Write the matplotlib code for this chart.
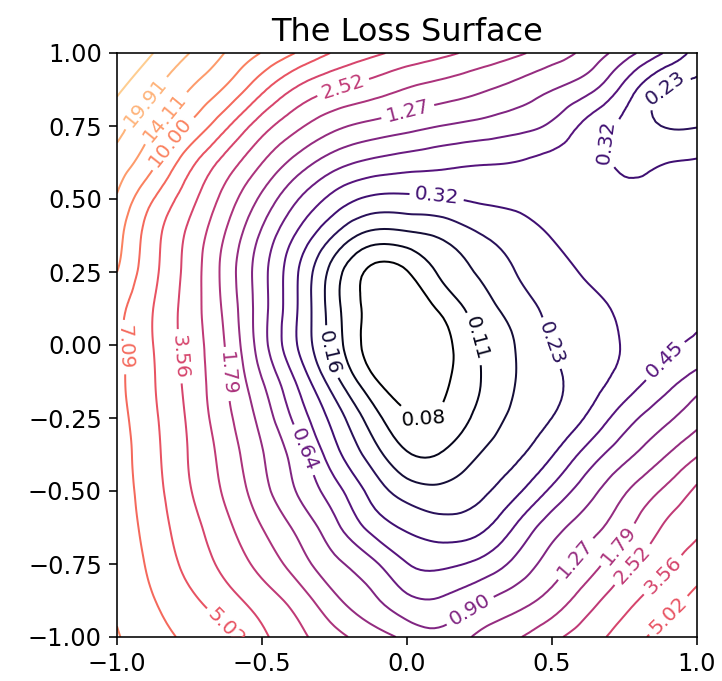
import numpy as np
import matplotlib
matplotlib.use("Agg")
import matplotlib.pyplot as plt
import matplotlib.tri as mtri
from matplotlib.colors import LogNorm

# grid coordinates (columns left->right, rows top->bottom)
x_values = [-1.0, -0.875, -0.75, -0.625, -0.5, -0.375, -0.25, -0.125, 0.0,
            0.125, 0.25, 0.375, 0.5, 0.625, 0.75, 0.875, 1.0]
y_values = [1.0, 0.875, 0.75, 0.625, 0.5, 0.375, 0.25, 0.125, 0.0,
            -0.125, -0.25, -0.375, -0.5, -0.625, -0.75, -0.875, -1.0]

# loss values, one row per y value (top row is y = 1)
loss_rows = [
    [38.3, 28.1, 19.9, 13.9, 9.83, 6.85, 4.85, 3.85, 3.20, 2.72, 2.28, 1.90, 1.51, 1.13, 0.741, 0.464, 0.279],
    [29.6, 20.6, 14.1, 9.50, 5.40, 3.33, 2.52, 2.11, 1.75, 1.53, 1.33, 1.12, 0.908, 0.696, 0.400, 0.231, 0.208],
    [22.6, 14.7, 9.50, 5.36, 2.94, 1.90, 1.38, 1.15, 1.01, 0.889, 0.805, 0.718, 0.596, 0.403, 0.294, 0.227, 0.223],
    [17.2, 10.7, 5.63, 3.11, 1.80, 1.09, 0.736, 0.592, 0.530, 0.493, 0.465, 0.448, 0.407, 0.361, 0.304, 0.314, 0.331],
    [13.6, 7.14, 4.02, 2.20, 1.17, 0.641, 0.399, 0.300, 0.294, 0.309, 0.334, 0.350, 0.367, 0.361, 0.343, 0.349, 0.355],
    [11.3, 5.73, 3.28, 1.74, 0.841, 0.421, 0.223, 0.143, 0.146, 0.170, 0.221, 0.266, 0.325, 0.355, 0.361, 0.367, 0.373],
    [10.0, 5.47, 3.10, 1.57, 0.723, 0.320, 0.135, 0.0753, 0.0793, 0.124, 0.167, 0.227, 0.283, 0.331, 0.355, 0.373, 0.393],
    [7.86, 5.02, 3.02, 1.64, 0.731, 0.314, 0.130, 0.0728, 0.0656, 0.0880, 0.135, 0.186, 0.250, 0.295, 0.337, 0.380, 0.429],
    [7.72, 5.02, 3.07, 1.75, 0.738, 0.312, 0.137, 0.0703, 0.0572, 0.0715, 0.116, 0.162, 0.227, 0.272, 0.329, 0.407, 0.483],
    [7.72, 5.15, 3.19, 1.85, 0.917, 0.423, 0.184, 0.0901, 0.0634, 0.0753, 0.112, 0.161, 0.209, 0.273, 0.372, 0.529, 0.754],
    [8.05, 5.34, 3.35, 1.98, 1.12, 0.553, 0.278, 0.138, 0.0850, 0.0865, 0.126, 0.174, 0.227, 0.338, 0.542, 0.791, 1.12],
    [8.28, 5.53, 3.48, 2.20, 1.30, 0.738, 0.363, 0.197, 0.118, 0.118, 0.161, 0.211, 0.312, 0.521, 0.807, 1.18, 1.73],
    [8.42, 5.73, 3.65, 2.38, 1.44, 0.868, 0.518, 0.290, 0.192, 0.175, 0.208, 0.295, 0.487, 0.788, 1.22, 1.81, 2.70],
    [8.93, 6.03, 4.07, 2.75, 1.79, 1.16, 0.703, 0.413, 0.304, 0.265, 0.293, 0.467, 0.777, 1.10, 1.62, 2.52, 3.35],
    [9.33, 6.48, 4.53, 3.22, 2.25, 1.50, 0.979, 0.701, 0.457, 0.421, 0.493, 0.701, 1.05, 1.52, 2.31, 3.22, 4.23],
    [9.60, 7.21, 5.42, 4.11, 3.03, 2.16, 1.37, 0.979, 0.694, 0.670, 0.853, 1.09, 1.46, 2.20, 3.18, 4.24, 5.57],
    [10.2, 8.19, 6.59, 5.42, 3.81, 2.75, 2.00, 1.51, 1.16, 1.01, 1.37, 1.72, 2.30, 3.07, 4.16, 5.57, 6.85],
]

# contour levels (as labelled on the chart)
levels = [0.0807, 0.1138, 0.1606, 0.2266, 0.3198, 0.4512, 0.6366, 0.8982,
          1.2674, 1.7882, 2.5231, 3.5600, 5.0230, 7.0873, 10.000, 14.110,
          19.908, 28.090, 39.634, 55.923]

x_ticks = [-1.0, -0.5, 0.0, 0.5, 1.0]
y_ticks = [-1.0, -0.75, -0.5, -0.25, 0.0, 0.25, 0.5, 0.75, 1.0]

# where the inline labels sit: (level value, x, y)
label_spots = [
    (19.908, -0.893, 0.822), (14.110, -0.821, 0.767), (10.000, -0.797, 0.682),
    (2.5231, -0.214, 0.863), (1.2674, 0.003, 0.798), (0.3198, 0.103, 0.514),
    (0.2266, 0.890, 0.880), (0.3198, 0.710, 0.685),
    (7.0873, -0.969, -0.007), (3.5600, -0.777, -0.038), (1.7882, -0.617, -0.099),
    (0.1606, -0.231, -0.017), (0.1138, 0.217, 0.017), (0.2266, 0.500, 0.007),
    (0.4512, 0.897, -0.062), (0.0807, 0.059, -0.247), (0.6366, -0.359, -0.360),
    (0.8982, 0.210, -0.897), (1.2674, 0.586, -0.736), (1.7882, 0.728, -0.685),
    (2.5231, 0.779, -0.753), (3.5600, 0.890, -0.795), (5.0230, 0.890, -0.914),
    (5.0230, -0.624, -0.969),
]

X, Y = np.meshgrid(np.array(x_values), np.array(y_values))
Z = np.array(loss_rows)

n_x = len(x_values)
n_y = len(y_values)
triangles = []
for i in range(n_y - 1):
    for j in range(n_x - 1):
        a = i * n_x + j
        b = a + 1
        c = a + n_x
        d = c + 1
        triangles.append([a, b, d])
        triangles.append([a, d, c])

tri = mtri.Triangulation(X.ravel(), Y.ravel(), triangles=np.array(triangles))
refiner = mtri.UniformTriRefiner(tri)
tri_fine, logz_fine = refiner.refine_field(np.log10(Z.ravel()), subdiv=3)
z_fine = 10 ** logz_fine

fig = plt.figure(figsize=(722 / 144, 681 / 144), dpi=144)
ax = fig.add_axes([117 / 722, 44 / 681, 580 / 722, 584 / 681])

norm = LogNorm(vmin=levels[0], vmax=levels[-1])
zmin, zmax = z_fine.min(), z_fine.max()
for lev in levels:
    if not (zmin < lev < zmax):
        continue
    cs = ax.tricontour(tri_fine, z_fine, levels=[lev], cmap="magma",
                       norm=norm, linewidths=1.0)
    spots = [(lx, ly) for (lv, lx, ly) in label_spots if abs(lv - lev) < 1e-6]
    if spots:
        cs.clabel(manual=spots, inline=True, fmt="%.2f", fontsize=10)

ax.set_xlim(-1, 1)
ax.set_ylim(-1, 1)
ax.set_xticks(x_ticks)
ax.set_yticks(y_ticks)
ax.tick_params(labelsize=12, length=4)
ax.set_title("The Loss Surface", fontsize=16)

fig.savefig("out.png", dpi=144)
